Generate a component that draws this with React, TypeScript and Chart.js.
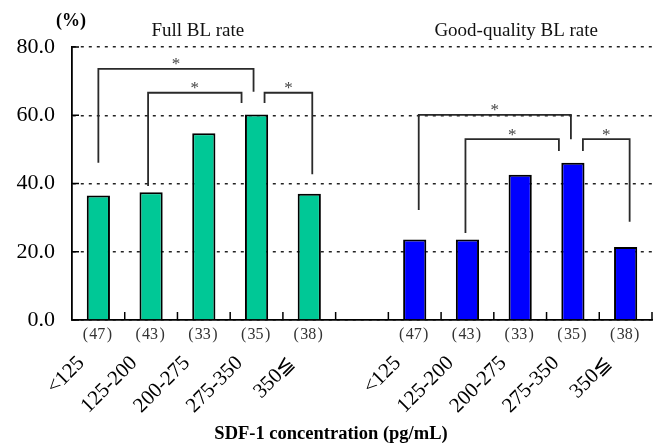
import React, { useEffect, useRef } from "react";
import { Chart, registerables } from "chart.js";

Chart.register(...registerables);

// ---- data ----
const groups = ["<125", "125-200", "200-275", "275-350", "350≦"];
const counts = [47, 43, 33, 35, 38];
const fullBL = [36.5, 37.4, 54.7, 60.2, 37.0];
const goodBL = [23.6, 23.6, 42.6, 46.1, 21.4];
const yMax = 80;
const yStep = 20;
const panelTitles = ["Full BL rate", "Good-quality BL rate"];
const yUnit = "(%)";
const xTitle = "SDF-1 concentration (pg/mL)";
const star = "*";
// significance brackets: [leftGroupIdx, rightGroupIdx, topValue, leftEndValue, rightEndValue]
const fullBrackets = [
  [0, 3, 73.6, 46.1, 66.9],
  [1, 3, 66.6, 39.3, 63.6],
  [3, 4, 66.6, 63.6, 42.7],
];
const goodBrackets = [
  [0, 3, 60.1, 32.2, 53.0],
  [1, 3, 53.0, 25.5, 49.5],
  [3, 4, 53.0, 49.5, 28.8],
];

// ---- style (pixel nudges for bracket legs) ----
const fullShift = [[0, -3], [-3, -15], [8, 3]];
const goodShift = [[4, -2], [-2, -14], [10, 4]];
const GREEN = "#00C896";
const BLUE = "#0000FF";
const SERIF = "'Liberation Serif', 'Times New Roman', serif";

const OFFSET2 = groups.length + 1;
const labels = [...groups, "", ...groups];
const fullData = [...fullBL, ...Array(groups.length + 1).fill(null)];
const goodData = [...Array(groups.length + 1).fill(null), ...goodBL];

const overlay = {
  id: "overlay",
  afterDatasetsDraw(chart: any) {
    const ctx = chart.ctx;
    const x = chart.scales.x;
    const y = chart.scales.y;
    const area = chart.chartArea;
    ctx.save();

    // inner ticks on y axis
    ctx.strokeStyle = "#000";
    ctx.lineWidth = 1.5;
    for (let v = 0; v <= yMax; v += yStep) {
      const py = y.getPixelForValue(v);
      ctx.beginPath();
      ctx.moveTo(area.left, py);
      ctx.lineTo(area.left + 7, py);
      ctx.stroke();
    }
    // inner ticks on x axis at category boundaries
    for (let i = 0; i < labels.length; i++) {
      const px = i === labels.length - 1 ? area.right : (x.getPixelForValue(i) + x.getPixelForValue(i + 1)) / 2;
      ctx.beginPath();
      ctx.moveTo(px, area.bottom);
      ctx.lineTo(px, area.bottom - 8);
      ctx.stroke();
    }

    // brackets
    const drawBrackets = (list: number[][], shifts: number[][], base: number) => {
      list.forEach((b, k) => {
        const xl = x.getPixelForValue(base + b[0]) + shifts[k][0];
        const xr = x.getPixelForValue(base + b[1]) + shifts[k][1];
        const yt = y.getPixelForValue(b[2]);
        const yl = y.getPixelForValue(b[3]);
        const yr = y.getPixelForValue(b[4]);
        ctx.strokeStyle = "#2a2a2a";
        ctx.lineWidth = 1.8;
        ctx.beginPath();
        ctx.moveTo(xl, yl);
        ctx.lineTo(xl, yt);
        ctx.lineTo(xr, yt);
        ctx.lineTo(xr, yr);
        ctx.stroke();
        ctx.fillStyle = "#444";
        ctx.font = `17px ${SERIF}`;
        ctx.textAlign = "center";
        ctx.textBaseline = "alphabetic";
        ctx.fillText(star, (xl + xr) / 2, yt + 0.5);
      });
    };
    drawBrackets(fullBrackets, fullShift, 0);
    drawBrackets(goodBrackets, goodShift, OFFSET2);

    // panel titles
    ctx.fillStyle = "#111";
    ctx.font = `19px ${SERIF}`;
    ctx.textAlign = "center";
    ctx.textBaseline = "alphabetic";
    const c1 = (x.getPixelForValue(0) + x.getPixelForValue(groups.length - 1)) / 2 - 6;
    const c2 = (x.getPixelForValue(OFFSET2) + x.getPixelForValue(OFFSET2 + groups.length - 1)) / 2 - 4;
    ctx.fillText(panelTitles[0], c1, 36);
    ctx.fillText(panelTitles[1], c2, 36);

    // unit label
    ctx.font = `bold 18px ${SERIF}`;
    ctx.fillStyle = "#000";
    ctx.fillText(yUnit, area.left - 1, 26);

    // counts and rotated group labels
    const drawGroupLabels = (base: number) => {
      groups.forEach((g, i) => {
        const cx = x.getPixelForValue(base + i);
        ctx.fillStyle = "#333";
        ctx.font = `16px ${SERIF}`;
        ctx.textAlign = "center";
        ctx.textBaseline = "middle";
        ctx.fillText(`(\u200A${counts[i]}\u200A)`, cx - 1, area.bottom + 15);
        ctx.save();
        ctx.translate(cx - 17, area.bottom + 40);
        ctx.rotate(-Math.PI / 4);
        ctx.fillStyle = "#000";
        ctx.font = `21px ${SERIF}`;
        ctx.textAlign = "right";
        ctx.textBaseline = "middle";
        ctx.fillText(g, 0, 0);
        ctx.restore();
      });
    };
    drawGroupLabels(0);
    drawGroupLabels(OFFSET2);

    // x title
    ctx.fillStyle = "#000";
    ctx.font = `bold 18.5px ${SERIF}`;
    ctx.textAlign = "center";
    ctx.textBaseline = "alphabetic";
    ctx.fillText(xTitle, chart.width / 2 + 3, 439);

    ctx.restore();
  },
};

export default function App() {
  const ref = useRef<HTMLCanvasElement | null>(null);
  useEffect(() => {
    if (!ref.current) return;
    const chart = new Chart(ref.current, {
      type: "bar",
      data: {
        labels,
        datasets: [
          {
            data: fullData,
            backgroundColor: GREEN,
            borderColor: "#000",
            borderWidth: 2,
            grouped: false,
            categoryPercentage: 1,
            barPercentage: 0.44,
          },
          {
            data: goodData,
            backgroundColor: BLUE,
            borderColor: "#000",
            borderWidth: 2,
            grouped: false,
            categoryPercentage: 1,
            barPercentage: 0.44,
          },
        ] as any,
      },
      options: {
        responsive: true,
        maintainAspectRatio: false,
        animation: false,
        layout: { padding: { left: 0, right: 4, top: 47, bottom: 127 } },
        plugins: {
          legend: { display: false },
          tooltip: { enabled: false },
          title: { display: false },
        },
        scales: {
          x: {
            type: "category",
            grid: { display: false, drawTicks: false },
            ticks: { display: false },
            border: { display: true, color: "#000", width: 1.8 },
          },
          y: {
            min: 0,
            max: yMax,
            afterFit: (s: any) => {
              s.width = 72;
            },
            ticks: {
              stepSize: yStep,
              padding: 17,
              color: "#000",
              font: { family: SERIF, size: 22 },
              callback: (v: any) => Number(v).toFixed(1),
            },
            grid: { color: "#222", lineWidth: 1.5, drawTicks: false },
            border: { display: true, color: "#000", width: 1.8, dash: [3, 5] },
          },
        },
      },
      plugins: [overlay],
    });
    return () => chart.destroy();
  }, []);
  return (
    <div style={{ position: "fixed", left: 0, top: 0, width: 656, height: 447, background: "#fff" }}>
      <canvas ref={ref} />
    </div>
  );
}
